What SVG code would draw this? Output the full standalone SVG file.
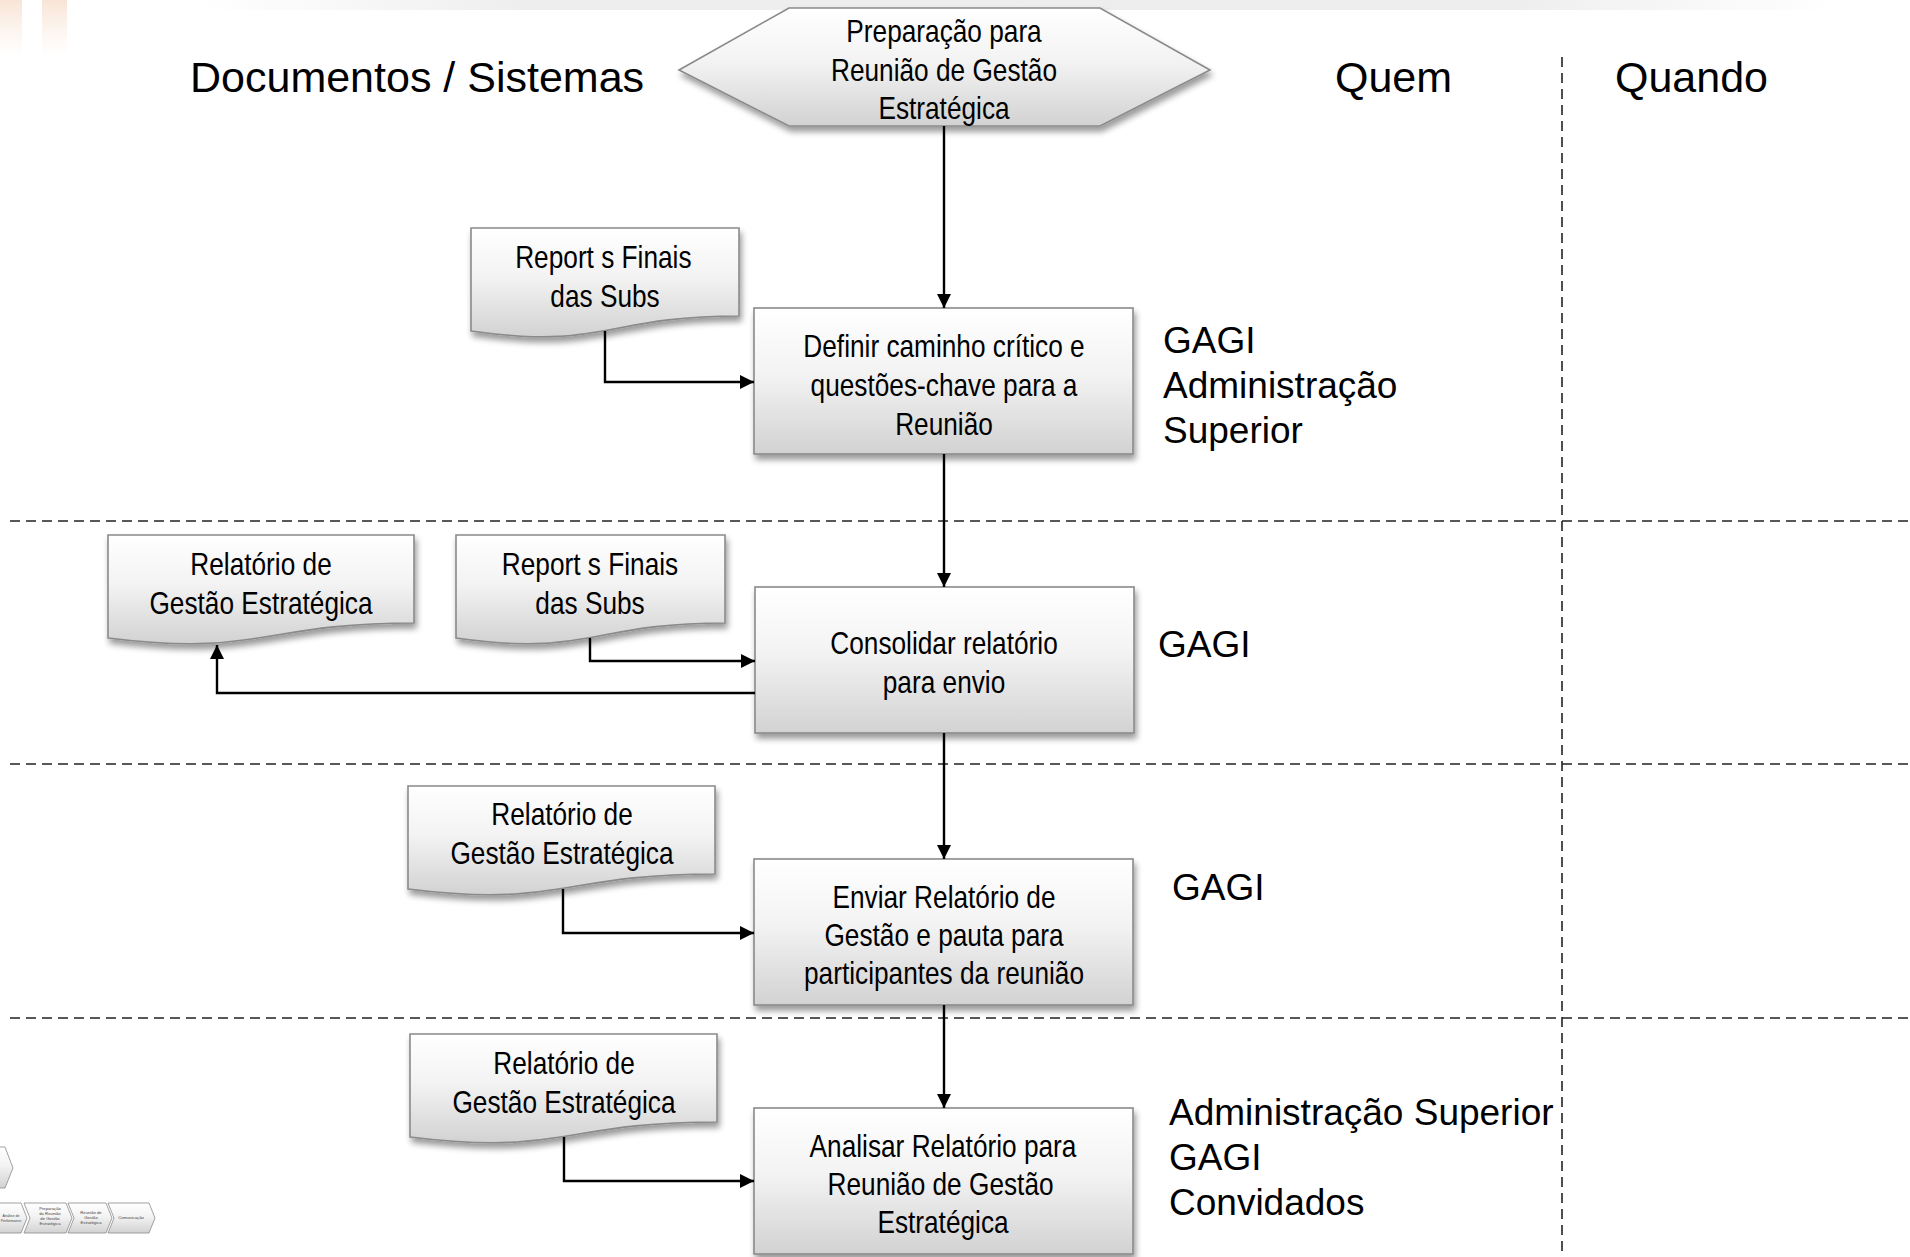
<svg xmlns="http://www.w3.org/2000/svg" width="1910" height="1257" viewBox="0 0 1910 1257">
<defs>
<style>
.nt{font-family:"Liberation Sans",Arial,sans-serif;font-size:32px;fill:#000;text-anchor:middle}
.rl{font-family:"Liberation Sans",Arial,sans-serif;font-size:37px;fill:#000}
.hd{font-family:"Liberation Sans",Arial,sans-serif;font-size:43px;fill:#000}
.tn{font-family:"Liberation Sans",Arial,sans-serif;font-size:4.2px;fill:#444;text-anchor:middle}
.box{fill:url(#g);stroke:#8a8a8a;stroke-width:1.6}
.chev{fill:url(#g);stroke:#8a8a8a;stroke-width:0.8}
.cn{fill:none;stroke:#000;stroke-width:2.4}
.dash{fill:none;stroke:#222;stroke-width:1.6;stroke-dasharray:10 6}
</style>
<linearGradient id="g" x1="0" y1="0" x2="0" y2="1">
<stop offset="0" stop-color="#ffffff"/>
<stop offset="0.45" stop-color="#f3f3f3"/>
<stop offset="1" stop-color="#d2d2d2"/>
</linearGradient>
<linearGradient id="topband" x1="0" y1="0" x2="1" y2="0">
<stop offset="0" stop-color="#eeeeee" stop-opacity="0"/>
<stop offset="0.2" stop-color="#ececec" stop-opacity="0.9"/>
<stop offset="0.8" stop-color="#ececec" stop-opacity="0.9"/>
<stop offset="1" stop-color="#eeeeee" stop-opacity="0"/>
</linearGradient>
<linearGradient id="peach" x1="0" y1="0" x2="0" y2="1">
<stop offset="0" stop-color="#f6d9c4" stop-opacity="0.7"/>
<stop offset="1" stop-color="#f6e4d8" stop-opacity="0"/>
</linearGradient>
<filter id="sh" x="-10%" y="-10%" width="125%" height="140%">
<feGaussianBlur in="SourceAlpha" stdDeviation="3"/>
<feOffset dx="2" dy="5" result="o"/>
<feComponentTransfer in="o" result="s"><feFuncA type="linear" slope="0.4"/></feComponentTransfer>
<feMerge><feMergeNode in="s"/><feMergeNode in="SourceGraphic"/></feMerge>
</filter>
<marker id="ar" markerUnits="userSpaceOnUse" markerWidth="14" markerHeight="14" refX="14" refY="7" orient="auto">
<path d="M0,0 L14,7 L0,14 Z" fill="#000"/>
</marker>
</defs>

<rect width="1910" height="1257" fill="#ffffff"/>
<rect x="200" y="0" width="1640" height="10" fill="url(#topband)"/>
<rect x="0" y="0" width="22" height="56" fill="url(#peach)"/>
<rect x="42" y="0" width="25" height="56" fill="url(#peach)"/>

<g id="lanes">
<line class="dash" x1="10" y1="521" x2="1910" y2="521"/>
<line class="dash" x1="10" y1="764" x2="1910" y2="764"/>
<line class="dash" x1="10" y1="1018" x2="1910" y2="1018"/>
<line class="dash" x1="1562" y1="57" x2="1562" y2="1257"/>
</g>

<g id="headers">
<text class="hd" x="190" y="92">Documentos / Sistemas</text>
<text class="hd" x="1335" y="92">Quem</text>
<text class="hd" x="1615" y="92">Quando</text>
</g>

<g id="start">
<path class="box" filter="url(#sh)" d="M679,70 L789,8 L1100,8 L1210,70 L1100,126 L789,126 Z"/>
<g transform="translate(944 0) scale(0.82 1)">
<text class="nt" x="0" y="42">Preparação para</text>
<text class="nt" x="0" y="81">Reunião de Gestão</text>
<text class="nt" x="0" y="119">Estratégica</text>
</g>
</g>

<g id="box1">
<rect class="box" filter="url(#sh)" x="754" y="308" width="379" height="146"/>
<g transform="translate(944 0) scale(0.82 1)">
<text class="nt" x="0" y="357">Definir caminho crítico e</text>
<text class="nt" x="0" y="396">questões-chave para a</text>
<text class="nt" x="0" y="435">Reunião</text>
</g>
</g>

<g id="box2">
<rect class="box" filter="url(#sh)" x="755" y="587" width="379" height="146"/>
<g transform="translate(944 0) scale(0.82 1)">
<text class="nt" x="0" y="654">Consolidar relatório</text>
<text class="nt" x="0" y="693">para envio</text>
</g>
</g>

<g id="box3">
<rect class="box" filter="url(#sh)" x="754" y="859" width="379" height="146"/>
<g transform="translate(944 0) scale(0.82 1)">
<text class="nt" x="0" y="908">Enviar Relatório de</text>
<text class="nt" x="0" y="946">Gestão e pauta para</text>
<text class="nt" x="0" y="984">participantes da reunião</text>
</g>
</g>

<g id="box4">
<rect class="box" filter="url(#sh)" x="754" y="1108" width="379" height="146"/>
<g transform="translate(943 0) scale(0.82 1)">
<text class="nt" x="0" y="1157">Analisar Relatório para</text>
<text class="nt" x="-3" y="1195">Reunião de Gestão</text>
<text class="nt" x="0" y="1233">Estratégica</text>
</g>
</g>

<g id="doc1">
<path class="box" filter="url(#sh)" d="M471,228 H739 V316 C605,316 605,350 471,331 Z"/>
<g transform="translate(605 0) scale(0.82 1)">
<text class="nt" x="-2" y="268">Report s Finais</text>
<text class="nt" x="0" y="307">das Subs</text>
</g>
</g>

<g id="doc2">
<path class="box" filter="url(#sh)" d="M108,535 H414 V623 C261,623 261,657 108,638 Z"/>
<g transform="translate(261 0) scale(0.82 1)">
<text class="nt" x="0" y="575">Relatório de</text>
<text class="nt" x="0" y="614">Gestão Estratégica</text>
</g>
</g>

<g id="doc3">
<path class="box" filter="url(#sh)" d="M456,535 H725 V623 C590,623 590,657 456,638 Z"/>
<g transform="translate(590 0) scale(0.82 1)">
<text class="nt" x="0" y="575">Report s Finais</text>
<text class="nt" x="0" y="614">das Subs</text>
</g>
</g>

<g id="doc4">
<path class="box" filter="url(#sh)" d="M408,786 H715 V874 C561,874 561,908 408,889 Z"/>
<g transform="translate(562 0) scale(0.82 1)">
<text class="nt" x="0" y="825">Relatório de</text>
<text class="nt" x="0" y="864">Gestão Estratégica</text>
</g>
</g>

<g id="doc5">
<path class="box" filter="url(#sh)" d="M410,1034 H717 V1122 C563,1122 563,1156 410,1137 Z"/>
<g transform="translate(564 0) scale(0.82 1)">
<text class="nt" x="0" y="1074">Relatório de</text>
<text class="nt" x="0" y="1113">Gestão Estratégica</text>
</g>
</g>

<g id="roles">
<text class="rl" x="1163" y="353">GAGI</text>
<text class="rl" x="1163" y="398">Administração</text>
<text class="rl" x="1163" y="443">Superior</text>
<text class="rl" x="1158" y="657">GAGI</text>
<text class="rl" x="1172" y="900">GAGI</text>
<text class="rl" x="1169" y="1125">Administração Superior</text>
<text class="rl" x="1169" y="1170">GAGI</text>
<text class="rl" x="1169" y="1215">Convidados</text>
</g>

<g id="connectors">
<path class="cn" marker-end="url(#ar)" d="M944,126 V308"/>
<path class="cn" marker-end="url(#ar)" d="M944,454 V587"/>
<path class="cn" marker-end="url(#ar)" d="M944,733 V859"/>
<path class="cn" marker-end="url(#ar)" d="M944,1005 V1108"/>
<path class="cn" marker-end="url(#ar)" d="M605,331 V382 H754"/>
<path class="cn" marker-end="url(#ar)" d="M590,638 V661 H755"/>
<path class="cn" marker-end="url(#ar)" d="M755,693 H217 V645"/>
<path class="cn" marker-end="url(#ar)" d="M563,889 V933 H754"/>
<path class="cn" marker-end="url(#ar)" d="M564,1137 V1181 H754"/>
</g>

<g id="thumbnail">
<path class="chev" d="M-30,1147 L5,1147 L13,1168 L5,1188 L-30,1188 Z"/>
<path class="chev" d="M-20,1203 L21,1203 L27,1218 L21,1233 L-20,1233 L-14,1218 Z"/>
<path class="chev" d="M24,1203 L66,1203 L72,1218 L66,1233 L24,1233 L30,1218 Z"/>
<path class="chev" d="M68,1203 L106,1203 L112,1218 L106,1233 L68,1233 L74,1218 Z"/>
<path class="chev" d="M108,1203 L149,1203 L155,1218 L149,1233 L108,1233 L114,1218 Z"/>
<text class="tn" x="11" y="1217" style="font-size:3.6px">Análise de</text>
<text class="tn" x="11" y="1222" style="font-size:3.6px">Performance</text>
<text class="tn" x="50" y="1210">Preparação</text>
<text class="tn" x="50" y="1215">da Reunião</text>
<text class="tn" x="50" y="1220">de Gestão</text>
<text class="tn" x="50" y="1225">Estratégica</text>
<text class="tn" x="91" y="1214">Reunião de</text>
<text class="tn" x="91" y="1219">Gestão</text>
<text class="tn" x="91" y="1224">Estratégica</text>
<text class="tn" x="131" y="1219">Comunicação</text>
</g>
</svg>
